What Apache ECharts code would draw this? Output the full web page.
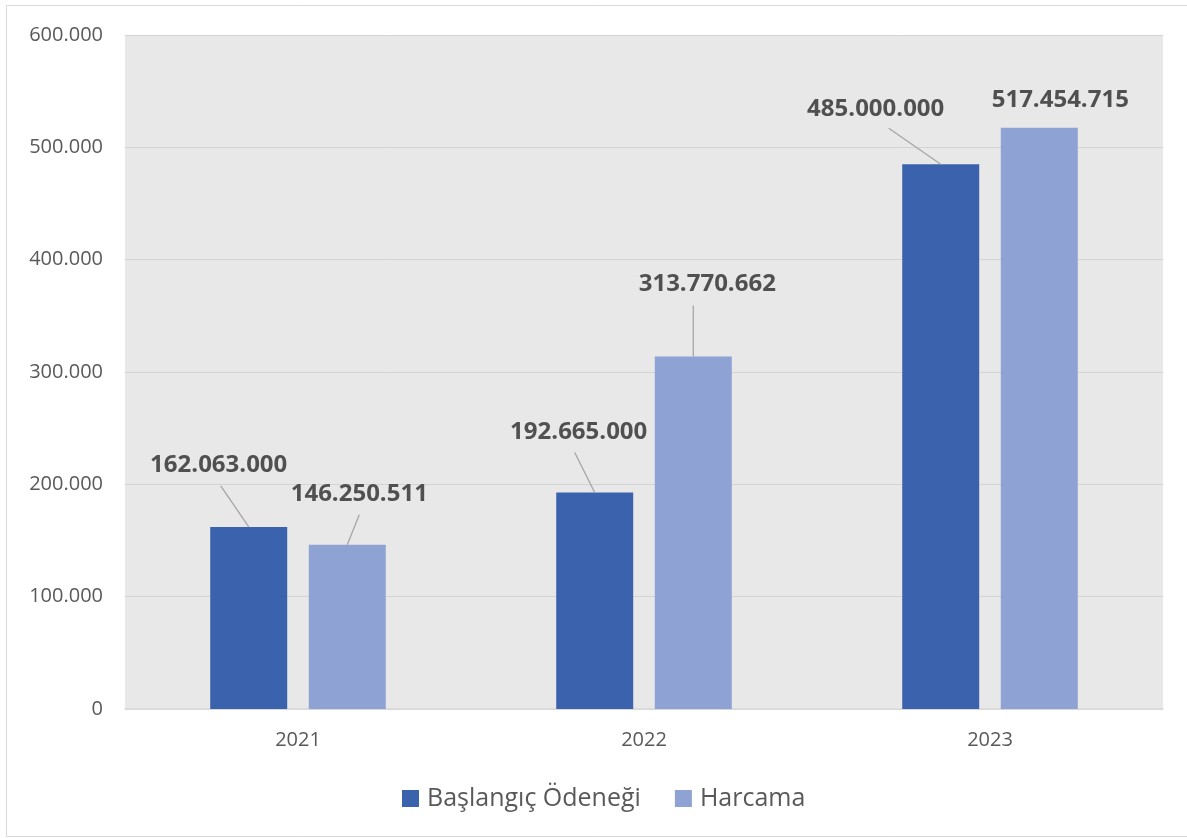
<!DOCTYPE html>
<html>
<head>
<meta charset="utf-8">
<script src="https://cdn.jsdelivr.net/npm/echarts@6/dist/echarts.min.js"></script>
<style>
html,body{margin:0;padding:0;background:#fff;}
#c{width:1187px;height:838px;}
</style>
</head>
<body>
<div id="c"></div>
<script>
const categories = ['2021', '2022', '2023'];
const seriesNames = ['Başlangıç Ödeneği', 'Harcama'];
const baslangic = [162063000, 192665000, 485000000];
const harcama = [146250511, 313770662, 517454715];
const yTicks = [0, 100000000, 200000000, 300000000, 400000000, 500000000, 600000000];

// label offsets and leader-line ends (styling only, pixels relative to bar top)
const labelOffsets = [
  [[-30, -48], [-16, -46], [-65, -41]],
  [[12, -37], [14, -58], [21, -14]]
];
const leaderEnds = [
  [[-28, -41], [-20, -40], [-52, -36]],
  [[12, -30], [0, -51], null]
];

const BAR_W = 77;
const BAR_GAP = 0.28;
const barShift = (BAR_W + BAR_W * BAR_GAP) / 2;

function dots(n) {
  return String(Math.round(n)).replace(/\B(?=(\d{3})+(?!\d))/g, '.');
}

const chart = echarts.init(document.getElementById('c'));
const colors = ['#3b62ac', '#8fa2d4'];

function makeSeries(idx, values) {
  return {
    name: seriesNames[idx],
    type: 'bar',
    barWidth: BAR_W,
    barGap: (BAR_GAP * 100) + '%',
    itemStyle: { color: colors[idx] },
    data: values,
    label: {
      show: true,
      position: 'top',
      distance: 0,
      fontFamily: 'Open Sans',
      fontWeight: 'bold',
      fontSize: 24,
      lineHeight: 28,
      color: '#505050',
      formatter: function (p) { return dots(p.value); }
    },
    labelLayout: function (p) {
      const o = labelOffsets[idx][p.dataIndex];
      return { dx: o[0], dy: o[1] };
    },
    emphasis: { disabled: true }
  };
}

// leader line data: [categoryIndex, value, seriesIndex]
const leaderData = [];
[baslangic, harcama].forEach(function (vals, s) {
  vals.forEach(function (v, i) {
    if (leaderEnds[s][i]) leaderData.push([i, v, s]);
  });
});

const leaderSeries = {
  type: 'custom',
  silent: true,
  z: 5,
  data: leaderData,
  renderItem: function (params, api) {
    const i = api.value(0), v = api.value(1), s = api.value(2);
    const p = api.coord([i, v]);
    const x0 = p[0] + (s === 0 ? -barShift : barShift);
    const y0 = p[1];
    const e = leaderEnds[s][i];
    return {
      type: 'line',
      shape: { x1: x0, y1: y0, x2: x0 + e[0], y2: y0 + e[1] },
      style: { stroke: '#a6a6a6', lineWidth: 1.3 }
    };
  }
};

chart.setOption({
  animation: false,
  backgroundColor: '#ffffff',
  graphic: [{
    type: 'rect',
    shape: { x: 6.5, y: 5.5, width: 1190, height: 831 },
    style: { fill: 'none', stroke: '#d9d9d9', lineWidth: 1 },
    silent: true,
    z: -10
  }],
  grid: {
    left: 125, right: 24, top: 35, bottom: 129,
    show: true,
    backgroundColor: '#e8e8e8',
    borderWidth: 0
  },
  legend: {
    data: seriesNames,
    left: 397,
    top: 781,
    itemWidth: 17,
    itemHeight: 17,
    itemGap: 34,
    icon: 'rect',
    textStyle: {
      fontFamily: 'Open Sans',
      fontSize: 25,
      color: '#595959',
      padding: [0, 0, 0, 3]
    }
  },
  xAxis: {
    type: 'category',
    data: categories,
    axisLine: { show: true, lineStyle: { color: '#d9d9d9', width: 1.5 } },
    axisTick: { show: false },
    axisLabel: {
      fontFamily: 'Open Sans',
      fontSize: 20,
      color: '#595959',
      margin: 21
    }
  },
  yAxis: {
    type: 'value',
    min: yTicks[0],
    max: yTicks[yTicks.length - 1],
    interval: yTicks[1] - yTicks[0],
    axisLine: { show: false },
    axisTick: { show: false },
    splitLine: { lineStyle: { color: '#d4d4d4', width: 1 } },
    axisLabel: {
      fontFamily: 'Open Sans',
      fontSize: 20,
      color: '#595959',
      margin: 22,
      formatter: function (v) { return v === 0 ? '0' : dots(v / 1000); }
    }
  },
  series: [makeSeries(0, baslangic), makeSeries(1, harcama), leaderSeries]
});
</script>
</body>
</html>
